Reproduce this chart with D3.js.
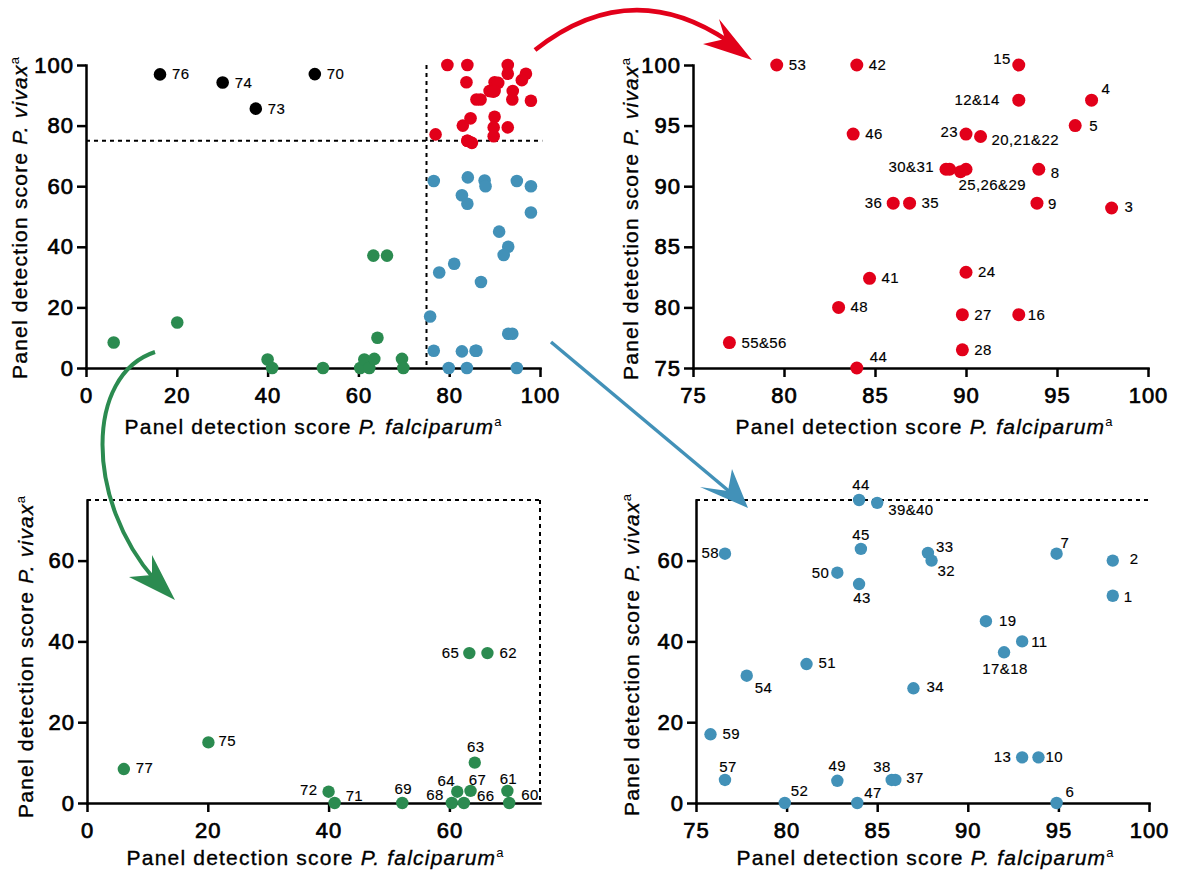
<!DOCTYPE html>
<html><head><meta charset="utf-8">
<script src="https://cdn.jsdelivr.net/npm/d3@7"></script>
<style>
body{margin:0;background:#fff;}
svg{display:block;font-family:"Liberation Sans",Arial,Helvetica,sans-serif;}
</style></head><body>
<svg id="chart" width="1178" height="873"></svg>
<script>
// ---------------- data ----------------
const redPoints = [
  {l:"53",x:79.6,y:100},{l:"42",x:84.0,y:100},{l:"15",x:92.9,y:100},
  {l:"12&14",x:92.9,y:97.1},{l:"4",x:96.9,y:97.1},{l:"5",x:96.0,y:95.0},
  {l:"46",x:83.8,y:94.3},{l:"23",x:90.0,y:94.3},{l:"20,21&22",x:90.8,y:94.1},
  {l:"30&31",x:88.9,y:91.4},{l:"",x:89.1,y:91.4},
  {l:"25,26&29",x:89.7,y:91.2},{l:"",x:90.0,y:91.4},
  {l:"8",x:94.0,y:91.4},{l:"36",x:86.0,y:88.6},{l:"35",x:86.9,y:88.6},
  {l:"9",x:93.9,y:88.6},{l:"3",x:98.0,y:88.2},{l:"41",x:84.7,y:82.4},
  {l:"24",x:90.0,y:82.9},{l:"48",x:83.0,y:80.0},{l:"27",x:89.8,y:79.4},
  {l:"16",x:92.9,y:79.4},{l:"55&56",x:77.0,y:77.1},{l:"28",x:89.8,y:76.5},
  {l:"44",x:84.0,y:75.0}
];
const bluePoints = [
  {l:"44",x:84.0,y:75.0},{l:"39&40",x:85.0,y:74.3},{l:"58",x:76.6,y:61.7},
  {l:"45",x:84.1,y:62.9},{l:"33",x:87.8,y:61.9},{l:"7",x:94.9,y:61.7},
  {l:"32",x:88.0,y:60.0},{l:"2",x:98.0,y:60.0},{l:"50",x:82.8,y:57.0},
  {l:"43",x:84.0,y:54.2},{l:"1",x:98.0,y:51.3},{l:"19",x:91.0,y:45.0},
  {l:"11",x:93.0,y:40.0},{l:"17&18",x:92.0,y:37.3},{l:"51",x:81.1,y:34.4},
  {l:"54",x:77.8,y:31.5},{l:"34",x:87.0,y:28.4},{l:"59",x:75.8,y:17.0},
  {l:"13",x:93.0,y:11.3},{l:"10",x:93.9,y:11.3},{l:"57",x:76.6,y:5.7},
  {l:"49",x:82.8,y:5.5},{l:"38",x:85.8,y:5.7},{l:"37",x:86.0,y:5.7},
  {l:"52",x:79.9,y:0},{l:"47",x:83.9,y:0},{l:"6",x:94.9,y:0}
];
const greenPoints = [
  {l:"77",x:6.1,y:8.4},{l:"75",x:20.1,y:15.0},{l:"72",x:40.0,y:2.8},
  {l:"71",x:41.0,y:0},{l:"69",x:52.2,y:0},{l:"68",x:60.4,y:0},
  {l:"64",x:61.3,y:2.8},{l:"66",x:62.4,y:0},{l:"65",x:63.3,y:37.1},
  {l:"67",x:63.5,y:3.0},{l:"63",x:64.2,y:10.0},{l:"62",x:66.3,y:37.1},
  {l:"61",x:69.6,y:3.0},{l:"60",x:69.9,y:0}
];
const blackPoints = [
  {l:"76",x:16.3,y:96.9},{l:"74",x:30.1,y:94.2},{l:"73",x:37.4,y:85.6},{l:"70",x:50.4,y:97.0}
];
const fullTicks = [0,20,40,60,80,100];
const zoomTicks = [75,80,85,90,95,100];
const lowTicks = [0,20,40,60];
const threshold = 75;
const xTitle = ["Panel detection score ","P. falciparum","a"];
const yTitle = ["Panel detection score ","P. vivax","a"];

// ---------------- label placement (dx, dy, anchor) ----------------
const posBlack = {"76":[12,5,"start"],"74":[12,5,"start"],"73":[12,5,"start"],"70":[12,5,"start"]};
const posRed = {
  "53":[12,5,"start"],"42":[12,5,"start"],"15":[-8,-1,"end"],"12&14":[-19,5,"end"],
  "4":[10,-6,"start"],"5":[14,5,"start"],"46":[12,5,"start"],"23":[-8,3,"end"],
  "20,21&22":[11,8,"start"],"30&31":[-12,3,"end"],"25,26&29":[-2,18,"start"],
  "8":[12,9,"start"],"36":[-11,5,"end"],"35":[12,5,"start"],"9":[11,6,"start"],
  "3":[13,4,"start"],"41":[12,5,"start"],"24":[12,5,"start"],"48":[12,5,"start"],
  "27":[12,5,"start"],"16":[9,5,"start"],"55&56":[12,5,"start"],"28":[12,5,"start"],
  "44":[13,-6,"start"]
};
const posBlue = {
  "44":[2,-10,"middle"],"39&40":[11,12,"start"],"58":[-6,4,"end"],"45":[0,-9,"middle"],
  "50":[-8,5,"end"],"43":[3,19,"middle"],"51":[12,4,"start"],"33":[8,-1,"start"],
  "32":[6,15,"start"],"7":[4,-6,"start"],"2":[17,3,"start"],"1":[11,6,"start"],
  "19":[13,5,"start"],"11":[9,6,"start"],"17&18":[1,22,"middle"],"54":[8,17,"start"],
  "59":[12,5,"start"],"57":[3,-8,"middle"],"52":[6,-7,"start"],"49":[0,-10,"middle"],
  "47":[7,-5,"start"],"38":[-1,-8,"end"],"37":[11,3,"start"],"34":[13,4,"start"],
  "13":[-11,5,"end"],"10":[7,5,"start"],"6":[9,-6,"start"]
};
const posGreen = {
  "77":[12,4,"start"],"75":[10,4,"start"],"65":[-10,5,"end"],"62":[12,5,"start"],
  "63":[1,-11,"middle"],"72":[-11,3,"end"],"71":[11,-2,"start"],"69":[1,-9,"middle"],
  "64":[-11,-6,"middle"],"68":[-8,-3,"end"],"67":[7,-6,"middle"],"66":[13,-2,"start"],
  "61":[1,-7,"middle"],"60":[12,-3,"start"]
};

const RED="#e2001a", BLUE="#4291b8", GREEN="#2b8b50", BLACK="#000000";
const svg = d3.select("#chart");

function title(g, parts, x, y, rotate){
  const t = g.append("text").attr("text-anchor","middle").attr("font-size",21)
    .attr("letter-spacing","1.2px").attr("fill","#000")
    .attr("stroke","#000").attr("stroke-width",0.35)
    .attr("transform", rotate ? `translate(${x},${y}) rotate(-90)` : `translate(${x},${y})`);
  t.append("tspan").text(parts[0]);
  t.append("tspan").attr("font-style","italic").text(parts[1]);
  t.append("tspan").attr("font-size",13).attr("dy",-8).attr("letter-spacing","0px")
    .attr("stroke-width",0).text(parts[2]);
}

function panel(o){
  const g = svg.append("g");
  const x = d3.scaleLinear().domain(o.xd).range(o.xr);
  const y = d3.scaleLinear().domain(o.yd).range(o.yr);
  (o.dashes||[]).forEach(d=>{
    g.append("line").attr("x1",x(d[0])).attr("y1",y(d[1])).attr("x2",x(d[2])).attr("y2",y(d[3]))
      .attr("stroke","#000").attr("stroke-width",2).attr("stroke-dasharray","4,4");
  });
  const xa = g.append("g").attr("transform",`translate(0,${o.yr[0]})`)
    .call(d3.axisBottom(x).tickValues(o.xt).tickSize(9).tickSizeOuter(0).tickPadding(10).tickFormat(d3.format("d")));
  const ya = g.append("g").attr("transform",`translate(${o.xr[0]},0)`)
    .call(d3.axisLeft(y).tickValues(o.yt).tickSize(9).tickSizeOuter(0).tickPadding(3).tickFormat(d3.format("d")));
  [xa,ya].forEach(a=>{
    a.attr("font-size",null).attr("font-family",null);
    a.select(".domain").attr("stroke-width",2.5).attr("stroke-linecap","square");
    a.selectAll(".tick line").attr("stroke-width",2.5);
    a.selectAll(".tick text").attr("font-size",22).attr("letter-spacing","1px").attr("fill","#000")
      .attr("stroke","#000").attr("stroke-width",0.7);
  });
  o.series.forEach(s=>{
    g.append("g").selectAll("circle").data(s.data).join("circle")
      .attr("cx",d=>x(d.x)).attr("cy",d=>y(d.y)).attr("r",o.r)
      .attr("fill",d=> s.colorFn ? s.colorFn(d) : s.color);
    if(s.pos){
      g.append("g").selectAll("text").data(s.data.filter(d=>d.l && s.pos[d.l])).join("text")
        .attr("x",d=>x(d.x)+s.pos[d.l][0]).attr("y",d=>y(d.y)+s.pos[d.l][1])
        .attr("text-anchor",d=>s.pos[d.l][2])
        .attr("font-size",15).attr("letter-spacing","0.4px").attr("fill","#000")
        .attr("stroke","#000").attr("stroke-width",0.15).text(d=>d.l);
    }
  });
  title(g, xTitle, o.xtp[0], o.xtp[1], false);
  title(g, yTitle, o.ytp[0], o.ytp[1], true);
}

// Top-left overview
panel({xd:[0,100], xr:[86,540], yd:[0,100], yr:[368,65], xt:fullTicks, yt:fullTicks, r:6.3,
  dashes:[[0,threshold,100.5,threshold],[threshold,100,threshold,0]],
  series:[
    {data:bluePoints, colorFn:d=> d.y>=74 ? RED : BLUE},
    {data:greenPoints, color:GREEN},
    {data:blackPoints, color:BLACK, pos:posBlack},
    {data:redPoints, color:RED}
  ],
  xtp:[313,434], ytp:[27,218]});

// Top-right: red zoom
panel({xd:[75,100], xr:[693,1148], yd:[75,100], yr:[368,65], xt:zoomTicks, yt:zoomTicks, r:6.5,
  series:[{data:redPoints, color:RED, pos:posRed}],
  xtp:[924,434], ytp:[638,219]});

// Bottom-left: green zoom
panel({xd:[0,75], xr:[87,540], yd:[0,75], yr:[803,500], xt:lowTicks, yt:lowTicks, r:6.2,
  dashes:[[0,threshold,threshold,threshold],[threshold,threshold,threshold,0]],
  series:[{data:greenPoints, color:GREEN, pos:posGreen}],
  xtp:[315,865], ytp:[33,657]});

// Bottom-right: blue zoom
panel({xd:[75,100], xr:[696,1149], yd:[0,75], yr:[803,500], xt:zoomTicks, yt:lowTicks, r:6.2,
  dashes:[[threshold,threshold,100,threshold]],
  series:[{data:bluePoints, color:BLUE, pos:posBlue}],
  xtp:[925,865], ytp:[639,655]});

// ---------------- arrows ----------------
const arrows = svg.append("g");
arrows.append("path").attr("d","M535,50 Q630,-25 728,41").attr("fill","none").attr("stroke",RED).attr("stroke-width",4.5);
arrows.append("polygon").attr("points","752,60 719,19 725,39 703,44").attr("fill",RED);
arrows.append("path").attr("d","M155,352 C85,375 85,500 155,580").attr("fill","none").attr("stroke",GREEN).attr("stroke-width",4);
arrows.append("polygon").attr("points","175,600 152,555 152,575 129,577").attr("fill",GREEN);
arrows.append("path").attr("d","M551,342 L730,492").attr("fill","none").attr("stroke",BLUE).attr("stroke-width",3.5);
arrows.append("polygon").attr("points","748,508 732,469 728,491 700,487").attr("fill",BLUE);
</script>
</body></html>
